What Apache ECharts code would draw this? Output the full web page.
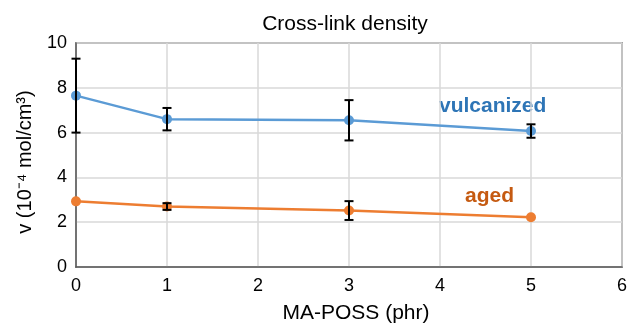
<!DOCTYPE html>
<html>
<head>
<meta charset="utf-8">
<script src="https://cdn.jsdelivr.net/npm/echarts@6/dist/echarts.min.js"></script>
<style>
  html, body { margin: 0; padding: 0; background: #fff; }
  #chart { width: 630px; height: 329px; }
</style>
</head>
<body>
<div id="chart"></div>
<script>
// MA-POSS loading (phr)
const poss = [0, 1, 3, 5];
// cross-link density, 10^-4 mol/cm3
const vulcanized = [7.65, 6.6, 6.55, 6.07];
const vulcanizedErr = [1.65, 0.5, 0.9, 0.3];
const aged = [2.93, 2.7, 2.52, 2.22];
const agedErr = [0, 0.15, 0.42, 0];

const blue = '#5b9bd5';
const orange = '#ed7d31';
const font = 'Liberation Sans, Arial, sans-serif';

function pairs(xs, ys) {
  return xs.map((x, i) => [x, ys[i]]);
}
function errData(xs, ys, es) {
  return xs.map((x, i) => [x, ys[i] - es[i], ys[i] + es[i]]).filter((d, i) => es[i] > 0);
}
function renderErr(params, api) {
  const lo = api.coord([api.value(0), api.value(1)]);
  const hi = api.coord([api.value(0), api.value(2)]);
  const w = 4.5;
  const style = { stroke: '#000', lineWidth: 2 };
  return {
    type: 'group',
    children: [
      { type: 'line', shape: { x1: lo[0], y1: lo[1], x2: hi[0], y2: hi[1] }, style },
      { type: 'line', shape: { x1: lo[0] - w, y1: lo[1], x2: lo[0] + w, y2: lo[1] }, style },
      { type: 'line', shape: { x1: hi[0] - w, y1: hi[1], x2: hi[0] + w, y2: hi[1] }, style }
    ]
  };
}

const chart = echarts.init(document.getElementById('chart'));
chart.setOption({
  animation: false,
  textStyle: { fontFamily: font },
  title: {
    text: 'Cross-link density',
    left: 340, top: 9, textAlign: 'center',
    textStyle: { fontSize: 21, fontWeight: 'normal', color: '#000' }
  },
  grid: { left: 76, right: 6, top: 43, bottom: 59, show: true, borderColor: '#595959', borderWidth: 1.5 },
  xAxis: {
    type: 'value', min: 0, max: 6, interval: 1,
    name: 'MA-POSS (phr)', nameLocation: 'middle', nameGap: 36,
    nameTextStyle: { fontSize: 21, color: '#000', verticalAlign: 'top', padding: [0, 0, 0, 14] },
    axisLine: { lineStyle: { color: '#595959', width: 1.5 } },
    axisTick: { show: false },
    axisLabel: { fontSize: 18, color: '#000', margin: 10 },
    splitLine: { lineStyle: { color: '#d9d9d9', width: 1.5 } }
  },
  yAxis: {
    type: 'value', min: 0, max: 10, interval: 2,
    name: 'v (10⁻⁴ mol/cm³)', nameLocation: 'middle', nameGap: 41,
    nameTextStyle: { fontSize: 20, color: '#000', padding: [0, 14, 0, 0] },
    axisLine: { show: true, lineStyle: { color: '#595959', width: 1.5 } },
    axisTick: { show: false },
    axisLabel: { fontSize: 18, color: '#000', margin: 9 },
    splitLine: { lineStyle: { color: '#d9d9d9', width: 1.5 } }
  },
  series: [
    {
      name: 'vulcanized', type: 'line', data: pairs(poss, vulcanized),
      symbol: 'circle', symbolSize: 10,
      lineStyle: { color: blue, width: 2.5 }, itemStyle: { color: blue }
    },
    {
      name: 'aged', type: 'line', data: pairs(poss, aged),
      symbol: 'circle', symbolSize: 10,
      lineStyle: { color: orange, width: 2.5 }, itemStyle: { color: orange }
    },
    {
      type: 'custom', renderItem: renderErr, data: errData(poss, vulcanized, vulcanizedErr),
      encode: { x: 0, y: [1, 2] }, z: 5
    },
    {
      type: 'custom', renderItem: renderErr, data: errData(poss, aged, agedErr),
      encode: { x: 0, y: [1, 2] }, z: 5
    }
  ],
  graphic: [
    { type: 'text', left: 439, top: 96,
      style: { text: 'vulcanized', fontSize: 21, fontWeight: 'bold', fill: '#2e75b6', fontFamily: font } },
    { type: 'text', left: 465, top: 186,
      style: { text: 'aged', fontSize: 21, fontWeight: 'bold', fill: '#c55a11', fontFamily: font } }
  ]
});
</script>
</body>
</html>
